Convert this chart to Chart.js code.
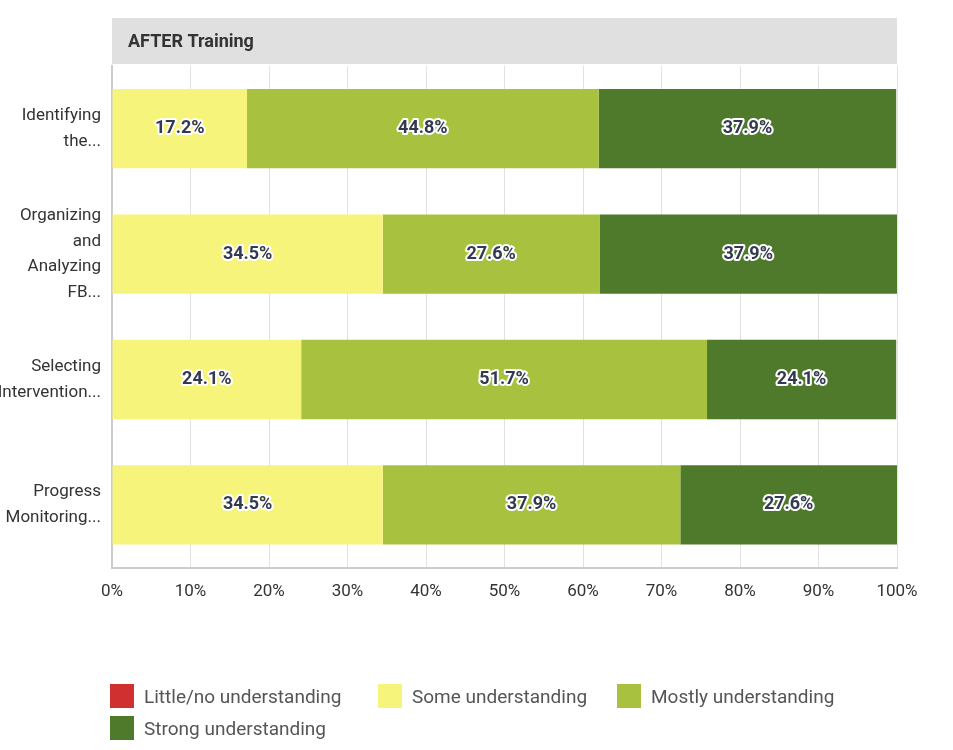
<!DOCTYPE html>
<html><head><meta charset="utf-8">
<script src="https://cdn.jsdelivr.net/npm/chart.js@4"></script>
<style>
body{margin:0;background:#fff;font-family:Roboto,"Noto Sans",sans-serif;}
#wrap{position:relative;width:953px;height:750px;}
.lg{position:absolute;display:flex;align-items:center;font-size:19px;color:#555;}
.lg span{display:inline-block;width:24px;height:24px;margin-right:10px;}
</style></head><body>
<div id="wrap"><canvas id="c" width="953" height="750"></canvas></div>
<script>
const categories=[["Identifying","the..."],["Organizing","and","Analyzing","FB..."],["Selecting","Intervention..."],["Progress","Monitoring..."]];
const seriesNames=["Little/no understanding","Some understanding","Mostly understanding","Strong understanding"];
const little=[0,0,0,0];
const some=[17.2,34.5,24.1,34.5];
const mostly=[44.8,27.6,51.7,37.9];
const strong=[37.9,37.9,24.1,27.6];
const colors=["#d0302f","#f7f47c","#a8c240","#4f7a2c"];
const tickLabels=["0%","10%","20%","30%","40%","50%","60%","70%","80%","90%","100%"];
const vals=[little,some,mostly,strong];
const legendPos=[[110,684],[378,684],[617,684],[110,716]];
const wrap=document.getElementById('wrap');
seriesNames.forEach((n,i)=>{const d=document.createElement('div');d.className='lg';d.style.left=legendPos[i][0]+'px';d.style.top=legendPos[i][1]+'px';d.innerHTML='<span style="background:'+colors[i]+'"></span>'+n;wrap.appendChild(d);});
const header={id:'header',beforeDraw(ch){const a=ch.chartArea,c=ch.ctx;c.save();c.fillStyle='#e0e0e0';c.fillRect(a.left,18,a.right-a.left,a.top-18-2);c.fillStyle='#333';c.font='bold 18px Roboto';c.textBaseline='middle';c.fillText('AFTER Training',a.left+16,42);c.restore();}};
const lbl={id:'lbl',afterDatasetsDraw(ch){const c=ch.ctx;c.save();c.font='bold 18px Roboto';c.textAlign='center';c.textBaseline='middle';c.lineJoin='round';
ch.data.datasets.forEach((ds,i)=>{ch.getDatasetMeta(i).data.forEach((b,j)=>{const v=ds.data[j];if(!v)return;const x=(b.base+b.x)/2;c.lineWidth=4;c.strokeStyle='#fff';c.strokeText(v.toFixed(1)+'%',x,b.y);c.fillStyle='#333a50';c.fillText(v.toFixed(1)+'%',x,b.y);});});c.restore();}};
new Chart(document.getElementById('c'),{type:'bar',
data:{labels:categories,datasets:seriesNames.map((n,i)=>({label:n,data:vals[i],backgroundColor:colors[i],barPercentage:0.8,categoryPercentage:0.79}))},
options:{indexAxis:'y',responsive:false,animation:false,
layout:{padding:{top:66,right:56,bottom:134,left:0}},
plugins:{legend:{display:false},tooltip:{enabled:false}},
scales:{x:{stacked:true,min:0,max:100,ticks:{stepSize:10,callback:(v,i)=>tickLabels[i],color:'#333',font:{size:17,family:'Roboto'},padding:14},grid:{color:'#e2e2e2',drawTicks:false},border:{color:'#ccc',width:2}},
y:{stacked:true,afterFit(s){s.width=112;},ticks:{color:'#333',font:{size:17,family:'Roboto',lineHeight:1.5},padding:3},grid:{display:false},border:{color:'#ccc',width:2}}}},
plugins:[header,lbl]});
</script></body></html>
